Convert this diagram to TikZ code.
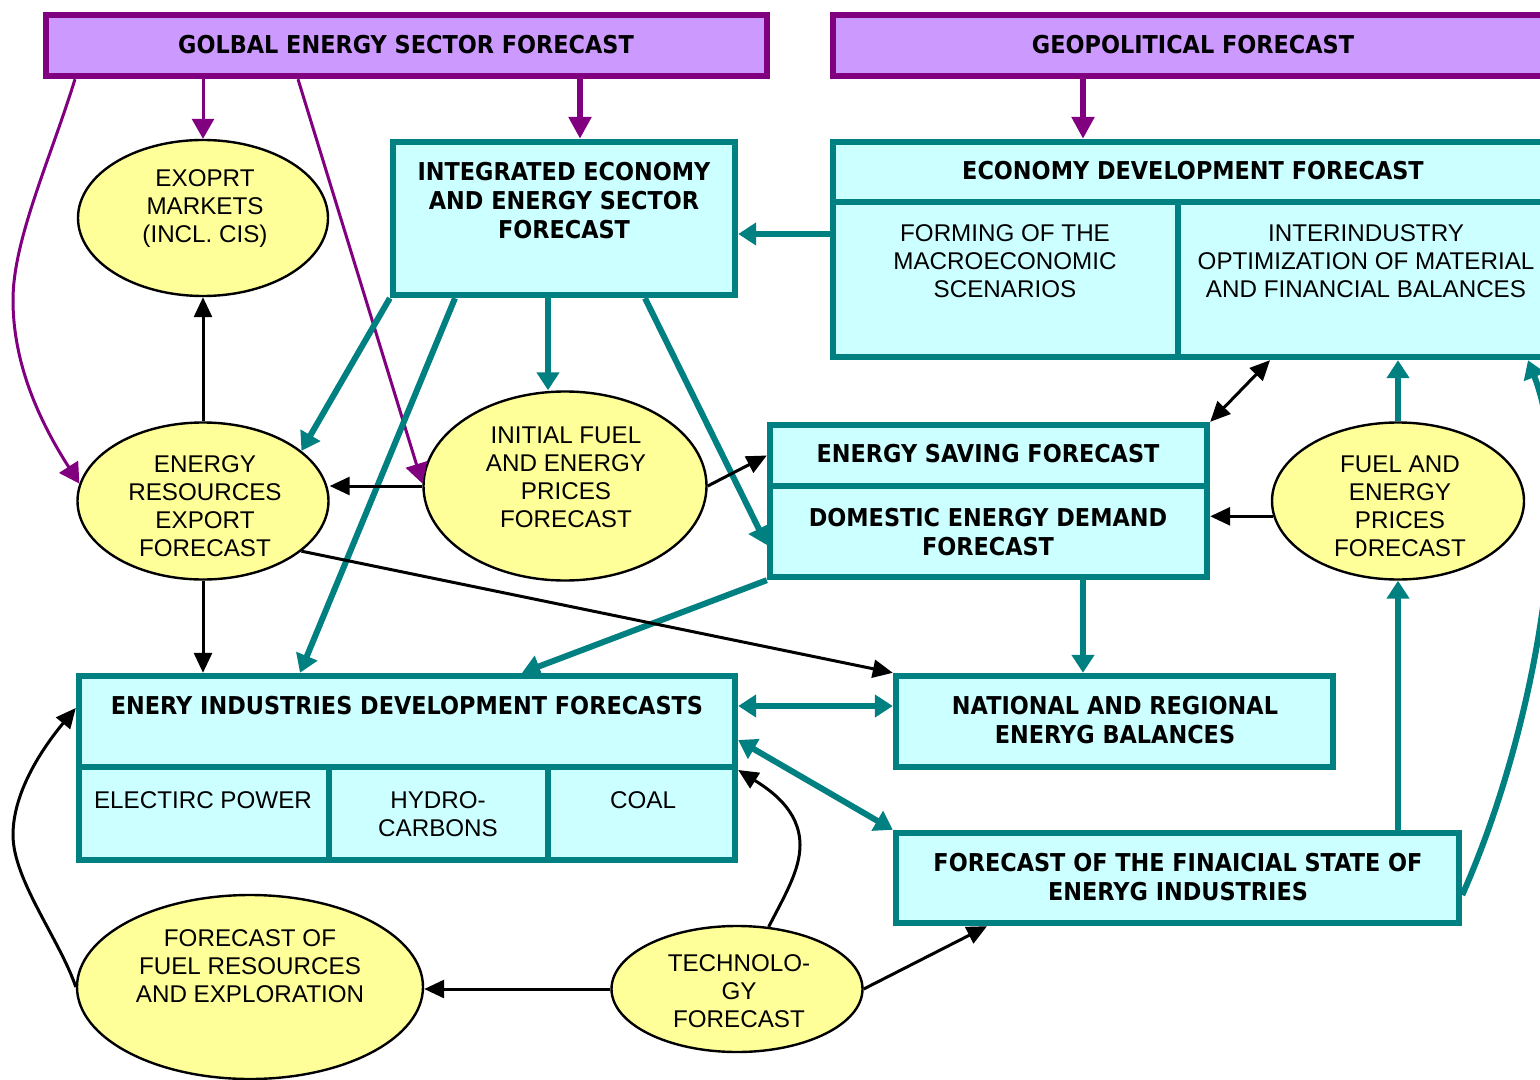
\documentclass[tikz,border=0pt]{standalone}
\usepackage{fontspec}
\setmainfont{Liberation Sans}
\newfontfamily\bfc{DejaVu Sans}[FakeStretch=0.91]
\usetikzlibrary{arrows.meta,shapes.geometric}
\definecolor{pborder}{HTML}{800080}
\definecolor{pfill}{HTML}{CC99FF}
\definecolor{tborder}{HTML}{008080}
\definecolor{tfill}{HTML}{CCFFFF}
\definecolor{yfill}{HTML}{FFFF99}
\begin{document}
\begin{tikzpicture}[x=0.5pt,y=-0.5pt,
 pbox/.style={draw=pborder,fill=pfill,line width=3.2pt,rectangle,inner sep=0pt},
 tbox/.style={draw=tborder,fill=tfill,line width=3.2pt,rectangle,inner sep=0pt},
 yell/.style={draw=black,fill=yfill,line width=1.2pt,ellipse,inner sep=0pt},
 btxt/.style={font=\bfc\bfseries\fontsize{12.3}{14.5}\selectfont,align=center,inner sep=0pt},
 rtxt/.style={font=\fontsize{12.1}{14}\selectfont,align=center,inner sep=0pt},
 parr/.style={draw=pborder,line width=1.5pt,-{Triangle[length=10pt,width=11pt]}},
 parrb/.style={draw=pborder,line width=3pt,-{Triangle[length=11pt,width=11pt]}},
 tarr/.style={draw=tborder,line width=3pt,-{Triangle[length=9pt,width=11pt]}},
 tdarr/.style={draw=tborder,line width=3pt,{Triangle[length=9pt,width=11pt]}-{Triangle[length=9pt,width=11pt]}},
 karr/.style={draw=black,line width=1.5pt,-{Triangle[length=10pt,width=9pt]}},
 kdarr/.style={draw=black,line width=1.5pt,{Triangle[length=10pt,width=9pt]}-{Triangle[length=10pt,width=9pt]}},
 divl/.style={draw=tborder,line width=3.2pt}
]
\useasboundingbox (0,0) rectangle (1540,1080);

% purple boxes
\node[pbox,minimum width=360.5pt,minimum height=30.5pt] (golbal) at (406.5,45.5) {};
\node[btxt] (golbalt) at (406,45) {GOLBAL ENERGY SECTOR FORECAST};
\node[pbox,minimum width=361.5pt,minimum height=30.5pt] (geo) at (1194.5,45.5) {};
\node[btxt] (geot) at (1193,45) {GEOPOLITICAL FORECAST};

% integrated
\node[tbox,minimum width=171pt,minimum height=76.5pt] (integ) at (564,218.5) {};
\node[btxt] (integt) at (564,201) {INTEGRATED ECONOMY\\AND ENERGY SECTOR\\FORECAST};

% economy
\node[tbox,minimum width=360pt,minimum height=107.5pt] (econ) at (1193,249.5) {};
\draw[divl] (econ.west |- 0,202) -- (econ.east |- 0,202);
\draw[divl] (1178,202) -- (econ.south -| 1178,0);
\node[btxt] (econt) at (1193,171) {ECONOMY DEVELOPMENT FORECAST};
\node[rtxt] (macro) at (1005,261) {FORMING OF THE\\MACROECONOMIC\\SCENARIOS};
\node[rtxt] (inter) at (1366,261) {INTERINDUSTRY\\OPTIMIZATION OF MATERIAL\\AND FINANCIAL BALANCES};

% saving / domestic
\node[tbox,minimum width=218.5pt,minimum height=30.5pt] (saving) at (988.5,455.5) {};
\node[tbox,minimum width=218.5pt,minimum height=45.5pt] (domestic) at (988.5,531.5) {};
\node[btxt] (savingt) at (988,454) {ENERGY SAVING FORECAST};
\node[btxt] (domestict) at (988,532) {DOMESTIC ENERGY DEMAND\\FORECAST};

% national
\node[tbox,minimum width=218.5pt,minimum height=45.5pt] (nat) at (1114.5,721.5) {};
\node[btxt] (natt) at (1115,720) {NATIONAL AND REGIONAL\\ENERYG BALANCES};

% energy industries
\node[tbox,minimum width=328pt,minimum height=92pt] (enery) at (407,768) {};
\draw[divl] (enery.west |- 0,767) -- (enery.east |- 0,767);
\draw[divl] (329,767) -- (enery.south -| 329,0);
\draw[divl] (548,767) -- (enery.south -| 548,0);
\node[btxt] (eneryt) at (407,706) {ENERY INDUSTRIES DEVELOPMENT FORECASTS};
\node[rtxt] (elec) at (203,800) {ELECTIRC POWER};
\node[rtxt] (hydro) at (438,814) {HYDRO-\\CARBONS};
\node[rtxt] (coal) at (643,800) {COAL};

% financial
\node[tbox,minimum width=281.5pt,minimum height=45pt] (fin) at (1177.5,878) {};
\node[btxt] (fint) at (1178,877) {FORECAST OF THE FINAICIAL STATE OF\\ENERYG INDUSTRIES};

% ellipses
\node[yell,minimum width=125pt,minimum height=78pt] (exoprt) at (203,218) {};
\node[rtxt] (exoprtt) at (205,209) {EXOPRT\\MARKETS\\(INCL. CIS)};
\node[yell,minimum width=125.5pt,minimum height=78.5pt] (ere) at (203,501) {};
\node[rtxt] (eret) at (205,506) {ENERGY\\RESOURCES\\EXPORT\\FORECAST};
\node[yell,minimum width=141.5pt,minimum height=94.5pt] (initial) at (565,486) {};
\node[rtxt] (initialt) at (566,477) {INITIAL FUEL\\AND ENERGY\\PRICES\\FORECAST};
\node[yell,minimum width=126pt,minimum height=78.5pt] (fuelp) at (1398,501) {};
\node[rtxt] (fuelpt) at (1400,506) {FUEL AND\\ENERGY\\PRICES\\FORECAST};
\node[yell,minimum width=173pt,minimum height=92pt] (fuelres) at (250,987) {};
\node[rtxt] (fuelrest) at (250,966) {FORECAST OF\\FUEL RESOURCES\\AND EXPLORATION};
\node[yell,minimum width=125.5pt,minimum height=63pt] (tech) at (737,989) {};
\node[rtxt] (techt) at (739,991) {TECHNOLO-\\GY\\FORECAST};

% purple connectors
\draw[parr] (golbal.south -| exoprt.north) -- (exoprt.north);
\draw[parrb] (golbal.south -| 580,0) -- (integ.north -| 580,0);
\draw[parr] (golbal.south -| 75,0) .. controls (50,160) and (13,240) .. (13,300) .. controls (13,370) and (45,430) .. (ere.172);
\draw[parr] (golbal.south -| 298,0) -- (initial.179);
\draw[parrb] (geo.south -| 1083,0) -- (econ.north -| 1083,0);

% teal connectors
\draw[tarr] (econ.west |- 0,234) -- (integ.east |- 0,234);
\draw[tarr] (integ.south west) -- (ere.27);
\draw[tarr] (integ.south -| 455,0) -- (enery.north -| 300,0);
\draw[tarr] (integ.south -| 548,0) -- (548,0 |- initial.north);
\draw[tarr] (integ.south -| 645,0) -- (domestic.west |- 0,545);
\draw[tarr] (domestic.south west) -- (enery.north -| 522,0);
\draw[tarr] (domestic.south -| 1083,0) -- (nat.north -| 1083,0);
\draw[tdarr] (enery.east |- 0,706) -- (nat.west |- 0,706);
\draw[tdarr] (enery.east |- 0,740) -- (fin.north west);
\draw[tarr] (fin.north -| fuelp.south) -- (fuelp.south);
\draw[tarr] (fuelp.north) -- (econ.south -| fuelp.north);
\draw[tarr] (fin.east |- 0,895) .. controls (1540,720) and (1575,480) .. (econ.south -| 1528,0);

% black connectors
\draw[karr] (ere.north) -- (exoprt.south);
\draw[karr] (initial.west) -- (initial.west -| ere.east);
\draw[karr] (initial.east) -- (saving.west);
\draw[kdarr] (econ.south -| 1270,0) -- (saving.north east);
\draw[karr] (fuelp.187) -- (fuelp.187 -| domestic.east);
\draw[karr] (ere.-27) -- (nat.north west);
\draw[karr] (ere.south) -- (ere.south |- enery.north);
\draw[karr] (fuelres.west) .. controls (60,940) and (13,880) .. (13,835) .. controls (13,790) and (45,745) .. (enery.west |- 0,708);
\draw[karr] (tech.west) -- (tech.west -| fuelres.east);
\draw[karr] (tech.63) .. controls (785,895) and (800,870) .. (800,845) .. controls (800,810) and (770,790) .. (enery.east |- 0,770);
\draw[karr] (tech.east) -- (fin.south -| 987,0);
\end{tikzpicture}
\end{document}
